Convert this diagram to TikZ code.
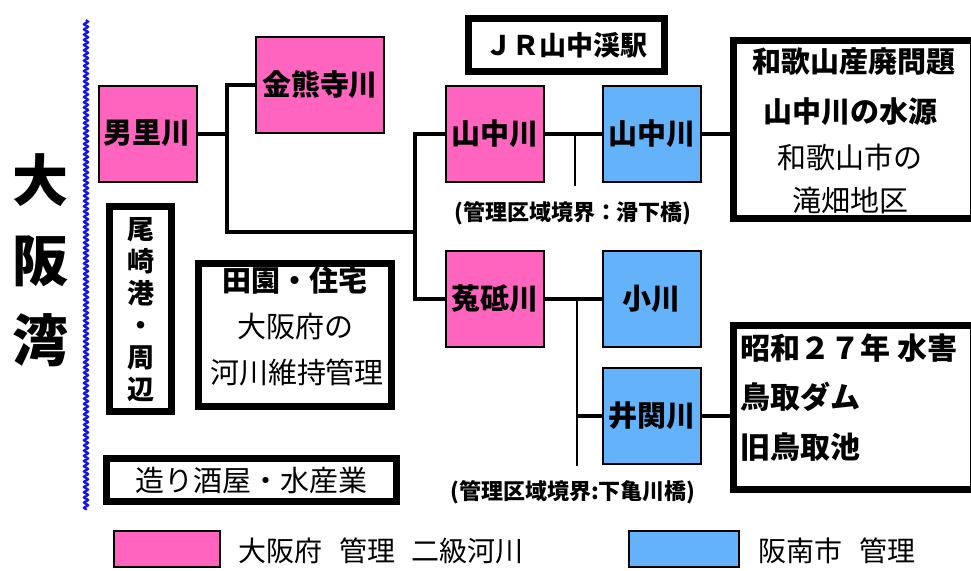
\documentclass[tikz,border=0pt]{standalone}
\usepackage{fontspec}
\setmainfont{Noto Sans CJK JP}
\usetikzlibrary{decorations.pathmorphing}
\definecolor{fupink}{RGB}{255,100,190}
\definecolor{cityblue}{RGB}{100,178,250}
\definecolor{wavyblue}{RGB}{20,20,230}
\tikzset{
  river/.style={draw=black, line width=1pt, minimum width=49pt, minimum height=48pt, inner sep=0pt, font=\fontsize{14.5}{16}\selectfont\bfseries},
  prefbox/.style={river, fill=fupink},
  citybox/.style={river, fill=cityblue},
  infobox/.style={draw=black, line width=3.5pt, fill=white, inner sep=0pt},
  conn/.style={line width=2pt},
  tick/.style={line width=1.2pt},
  lbl/.style={font=\fontsize{11}{13}\selectfont\bfseries, inner sep=0pt},
  boxtext/.style={font=\fontsize{14.5}{17}\selectfont, inner sep=0pt},
  legtext/.style={font=\fontsize{14}{16}\selectfont, anchor=west, inner sep=0pt}
}
\begin{document}
\begin{tikzpicture}[x=0.5pt,y=-0.5pt]
\clip (0,0) rectangle (971,570);
\fill[white] (0,0) rectangle (971,570);
% bay
\node[font=\fontsize{28}{40}\selectfont\bfseries, align=center, inner sep=0pt] (bay) at (40,260) {大\\阪\\湾};
\coordinate (wtop) at (86,20);
\coordinate (wbot) at (86,510);
\draw[wavyblue, line width=1.1pt, decorate, decoration={snake, amplitude=1pt, segment length=2.6pt}] (wtop) -- (wbot);
% river boxes
\node[prefbox] (otori) at (147.5,133.5) {男里川};
\node[prefbox, minimum width=64pt] (kinyu) at (320,85) {金熊寺川};
\node[prefbox] (yam1) at (495,134) {山中川};
\node[citybox] (yam2) at (651.5,134) {山中川};
\node[prefbox] (ud) at (495,299) {菟砥川};
\node[citybox] (ogawa) at (651.5,299) {小川};
\node[citybox] (izeki) at (651.5,416) {井関川};
% info boxes
\node[infobox, minimum width=98pt, minimum height=26.5pt, font=\fontsize{13.5}{16}\selectfont\bfseries] (jr) at (566.5,45) {ＪＲ山中渓駅};
\node[infobox, minimum width=120pt, minimum height=89pt] (src) at (853,129.5) {};
\node[boxtext, font=\fontsize{14.5}{17}\selectfont\bfseries] (s1) at (854,62) {和歌山産廃問題};
\node[boxtext, font=\fontsize{14.5}{17}\selectfont\bfseries] (s2) at (850,112) {山中川の水源};
\node[boxtext] (s3) at (850,157) {和歌山市の};
\node[boxtext] (s4) at (850,200) {滝畑地区};
\node[infobox, minimum width=120pt, minimum height=82pt] (flood) at (853,407) {};
\node[boxtext, font=\fontsize{15}{17}\selectfont\bfseries, anchor=west] (f1) at (740,348) {昭和２７年 水害};
\node[boxtext, font=\fontsize{15}{17}\selectfont\bfseries, anchor=west] (f2) at (740,397) {鳥取ダム};
\node[boxtext, font=\fontsize{15}{17}\selectfont\bfseries, anchor=west] (f3) at (740,447) {旧鳥取池};
\node[infobox, minimum width=31pt, minimum height=102.5pt] (ozaki) at (140.5,309) {};
\node[font=\fontsize{13.5}{16}\selectfont\bfseries, align=center, inner sep=0pt] (ozt) at (140.5,310) {尾\\崎\\港\\・\\周\\辺};
\node[infobox, minimum width=96.5pt, minimum height=71.5pt] (den) at (295,335) {};
\node[boxtext, font=\fontsize{14.5}{17}\selectfont\bfseries] (d1) at (295,280) {田園・住宅};
\node[boxtext] (d2) at (295,327) {大阪府の};
\node[boxtext] (d3) at (297,373) {河川維持管理};
\node[infobox, minimum width=145pt, minimum height=21.5pt, font=\fontsize{14.5}{17}\selectfont] (sake) at (251.5,480) {造り酒屋・水産業};
% labels
\node[lbl] (lab1) at (573,213) {(管理区域境界：滑下橋)};
\node[lbl] (lab2) at (573,492) {(管理区域境界:下亀川橋)};
% connectors
\coordinate (a) at (227,85);
\coordinate (b) at (227,232);
\coordinate (c) at (415,232);
\coordinate (d) at (415,134);
\coordinate (e) at (415,299);
\draw[conn] (kinyu.west) -- (a) -- (b) -- (c);
\draw[conn] (otori.east) -- (otori.east -| a);
\draw[conn] (yam1.west) -- (d) -- (e) -- (ud.west);
\draw[conn] (yam1.east) -- (yam2.west);
\coordinate (t1) at (575,186);
\draw[tick] (t1 |- yam1.east) -- (t1);
\draw[conn] (yam2.east) -- (yam2.east -| src.west);
\draw[conn] (ud.east) -- (ogawa.west);
\coordinate (t2) at (577,466);
\draw[tick] (t2 |- ud.east) -- (t2);
\draw[conn] (t2 |- izeki.west) -- (izeki.west);
\draw[conn] (izeki.east) -- (izeki.east -| flood.west);
% legend
\node[draw=black, line width=1pt, fill=fupink, minimum width=53pt, minimum height=18pt, inner sep=0pt] (legp) at (166.5,549) {};
\node[legtext] (legpt) at (238,551) {大阪府\hspace{0.6em}管理\hspace{0.6em}二級河川};
\node[draw=black, line width=1pt, fill=cityblue, minimum width=55pt, minimum height=18pt, inner sep=0pt] (legb) at (684,549) {};
\node[legtext] (legbt) at (758,551) {阪南市\hspace{0.6em}管理};
\end{tikzpicture}
\end{document}
